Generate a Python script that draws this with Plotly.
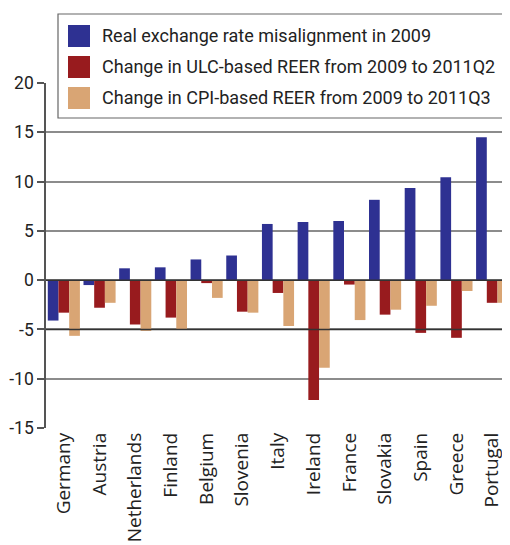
import plotly.graph_objects as go

paises = ['Germany', 'Austria', 'Netherlands', 'Finland', 'Belgium', 'Slovenia',
          'Italy', 'Ireland', 'France', 'Slovakia', 'Spain', 'Greece', 'Portugal']

desalineacion_2009 = [-4.1, -0.5, 1.2, 1.3, 2.1, 2.5, 5.7, 5.9, 6.0, 8.15, 9.35, 10.45, 14.5]
ulc_reer = [-3.3, -2.8, -4.5, -3.8, -0.3, -3.2, -1.3, -12.15, -0.45, -3.5, -5.35, -5.85, -2.3]
cpi_reer = [-5.65, -2.3, -5.15, -5.0, -1.8, -3.3, -4.65, -8.9, -4.05, -3.0, -2.6, -1.1, -2.3]

nombres = ['Real exchange rate misalignment in 2009',
           'Change in ULC-based REER from 2009 to 2011Q2',
           'Change in CPI-based REER from 2009 to 2011Q3']
colores = ['#2e3192', '#981b1e', '#d9a574']

# la pagina tiene 8px de margen en el body, asi que la figura es 8px mas pequeña
OFF = 8
W, H = 510 - OFF, 545 - OFF
L, R, T, B = 46 - OFF, 0, 83 - OFF, 117

fig = go.Figure()
for serie, nombre, color in zip([desalineacion_2009, ulc_reer, cpi_reer], nombres, colores):
    fig.add_trace(go.Bar(x=paises, y=serie, name=nombre,
                         marker=dict(color=color, line=dict(width=0)),
                         showlegend=False))

# pixel de la imagen -> paper
def px(x):
    return (x - OFF - L) / (W - L - R)

def py(y):
    return (H - B - (y - OFF)) / (H - T - B)

shapes = []
annotations = []

# lineas de referencia oscuras (0 y -5)
for yv in [0, -5]:
    shapes.append(dict(type='line', xref='paper', yref='y', x0=0, x1=1, y0=yv, y1=yv,
                       line=dict(color='#333333', width=1.5), layer='above'))

# leyenda hecha a mano (cuadros grandes)
shapes.append(dict(type='rect', xref='paper', yref='paper',
                   x0=px(58), x1=px(508), y0=py(118), y1=py(14),
                   fillcolor='white', line=dict(color='#666666', width=1.2), layer='above'))
for i, (nombre, color) in enumerate(zip(nombres, colores)):
    yc = 36 + i * 31
    shapes.append(dict(type='rect', xref='paper', yref='paper',
                       x0=px(68), x1=px(90), y0=py(yc + 11), y1=py(yc - 11),
                       fillcolor=color, line=dict(width=0), layer='above'))
    annotations.append(dict(text=nombre, xref='paper', yref='paper', x=px(100), y=py(yc),
                            xanchor='left', yanchor='middle', showarrow=False,
                            font=dict(family='Roboto', size=18, color='#222222')))

fig.update_layout(
    width=W, height=H,
    margin=dict(l=L, r=R, t=T, b=B),
    plot_bgcolor='white', paper_bgcolor='white',
    barmode='group', bargap=0.1, bargroupgap=0,
    shapes=shapes, annotations=annotations,
    xaxis=dict(tickangle=-90, showgrid=False, ticks='', showline=False, automargin=False,
               tickfont=dict(family='Open Sans', size=19, color='#222222')),
    yaxis=dict(range=[-15, 20], tickvals=[-15, -10, -5, 0, 5, 10, 15, 20],
               ticktext=['-15', '-10', '-5', '0', '5', '10', '15', '20'],
               showgrid=True, gridcolor='#8c8c8c', gridwidth=2, zeroline=False,
               showline=True, linecolor='#555555', linewidth=1.5, automargin=False,
               ticks='outside', ticklen=7, tickcolor='#555555', tickwidth=1.5,
               tickfont=dict(family='Roboto', size=17.5, color='#222222')),
)

fig.write_html('out.html')
